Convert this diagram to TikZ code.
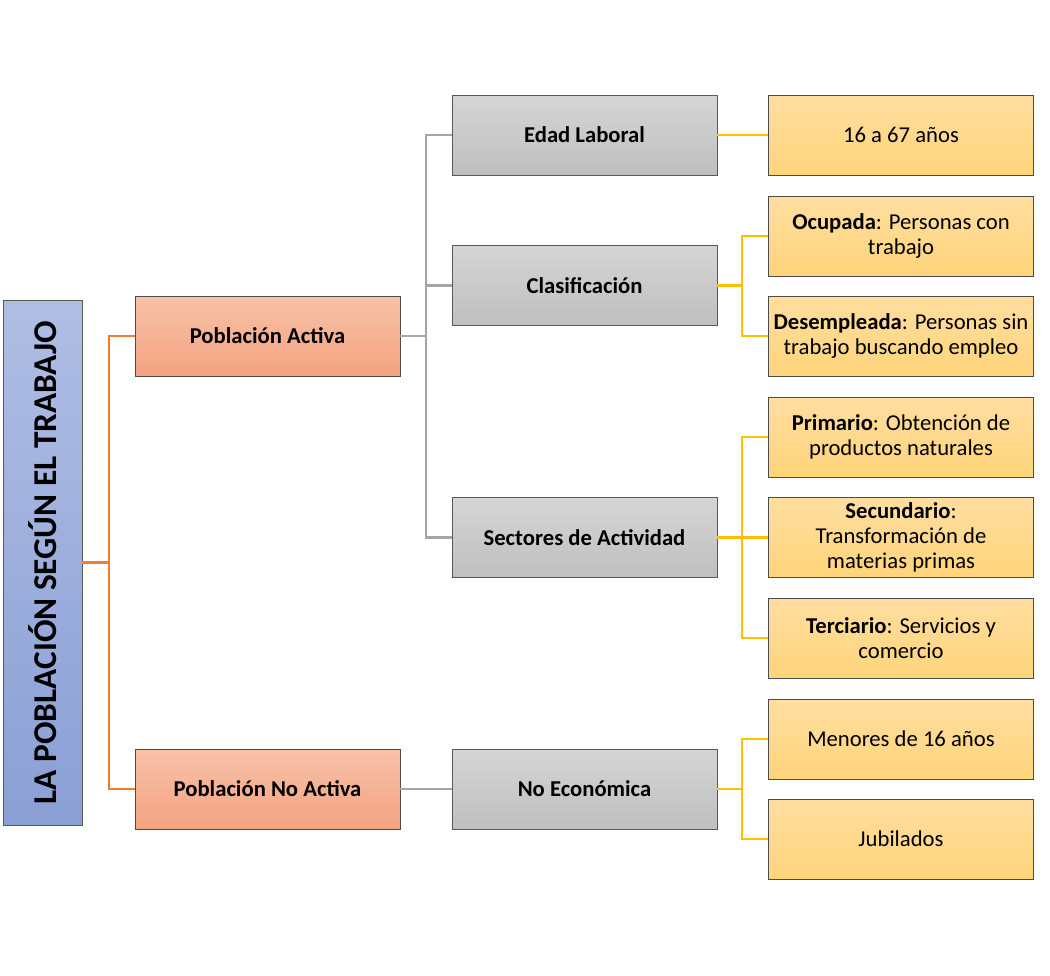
\documentclass[tikz,border=0pt]{standalone}
\usepackage{fontspec}
\setmainfont{Carlito}
\usepackage{tikz}
\usetikzlibrary{positioning, calc}

\definecolor{rootA}{HTML}{B0BEE4}
\definecolor{rootB}{HTML}{8A9FD5}
\definecolor{orgA}{HTML}{F7C1A8}
\definecolor{orgB}{HTML}{F4A380}
\definecolor{gryA}{HTML}{D5D5D5}
\definecolor{gryB}{HTML}{BFBFBF}
\definecolor{ylwA}{HTML}{FFDEA0}
\definecolor{ylwB}{HTML}{FFD47A}
\definecolor{lnOrange}{HTML}{ED7D31}
\definecolor{lnGray}{HTML}{A5A5A5}
\definecolor{lnYellow}{HTML}{FFC000}

\begin{document}
\begin{tikzpicture}[
    x=0.75pt, y=-0.75pt,
    font=\fontsize{17}{18.8}\selectfont,
    box/.style={draw, line width=0.6pt, minimum width=198.75pt, minimum height=60pt,
        align=center, inner sep=1pt},
    rootbox/.style={draw=black!65, line width=0.6pt, rotate=90, minimum width=393.75pt,
        minimum height=59.25pt, top color=rootA, bottom color=rootB,
        font=\fontsize{25}{28}\selectfont\bfseries},
    lvlone/.style={box, draw=black!70, top color=orgA, bottom color=orgB, font=\fontsize{17}{18.8}\selectfont\bfseries},
    lvltwo/.style={box, draw=black!65, top color=gryA, bottom color=gryB, font=\fontsize{17}{18.8}\selectfont\bfseries},
    lvlthree/.style={box, draw=black!70, top color=ylwA, bottom color=ylwB},
    orgline/.style={draw=lnOrange, line width=1.8pt},
    gryline/.style={draw=lnGray, line width=1.8pt},
    ylwline/.style={draw=lnYellow, line width=1.8pt}
]
    \useasboundingbox (0,0) rectangle (1050,975);

    % junction points of the connectors
    \coordinate (oj) at (109,562.5);
    \coordinate (gj) at (426,336);
    \coordinate (cj) at (742,285.5);
    \coordinate (sj) at (742,537.5);
    \coordinate (nj) at (742,789);

    % root and first level
    \node[rootbox] (root) at (42.5,562.5) {LA POBLACIÓN SEGÚN EL TRABAJO};
    \node[lvlone] (activa) at (267.5,336) {Población Activa};
    \node[lvlone] (noactiva) at (267.5,789) {Población No Activa};

    % second level
    \node[lvltwo] (edad) at (584.5,135) {Edad Laboral};
    \node[lvltwo] (clasif) at (584.5,285.5) {Clasificación};
    \node[lvltwo] (sectores) at (584.5,537.5) {Sectores de Actividad};
    \node[lvltwo] (noecon) at (584.5,789) {No Económica};

    % third level
    \node[lvlthree] (anios) at (901,135) {16 a 67 años};
    \node[lvlthree] (ocupada) at (901,236) {\textbf{Ocupada}: Personas con\\trabajo};
    \node[lvlthree] (desemp) at (901,336) {\textbf{Desempleada}: Personas sin\\trabajo buscando empleo};
    \node[lvlthree] (primario) at (901,437) {\textbf{Primario}: Obtención de\\productos naturales};
    \node[lvlthree] (secund) at (901,537.5) {\textbf{Secundario}:\\Transformación de\\materias primas};
    \node[lvlthree] (terciario) at (901,638) {\textbf{Terciario}: Servicios y\\comercio};
    \node[lvlthree] (menores) at (901,739) {Menores de 16 años};
    \node[lvlthree] (jubil) at (901,839) {Jubilados};

    \path[orgline]
        (root.south) -- (oj)
        (oj) |- (activa.west)
        (oj) |- (noactiva.west);

    \path[gryline]
        (activa.east) -- (gj)
        (gj) |- (edad.west)
        (gj) |- (clasif.west)
        (gj) |- (sectores.west)
        (noactiva.east) -- (noecon.west);

    \path[ylwline]
        (edad.east) -- (anios.west)
        (clasif.east) -- (cj)
        (cj) |- (ocupada.west)
        (cj) |- (desemp.west)
        (sectores.east) -- (sj)
        (sj) |- (primario.west)
        (sj) -- (secund.west)
        (sj) |- (terciario.west)
        (noecon.east) -- (nj)
        (nj) |- (menores.west)
        (nj) |- (jubil.west);
\end{tikzpicture}
\end{document}
